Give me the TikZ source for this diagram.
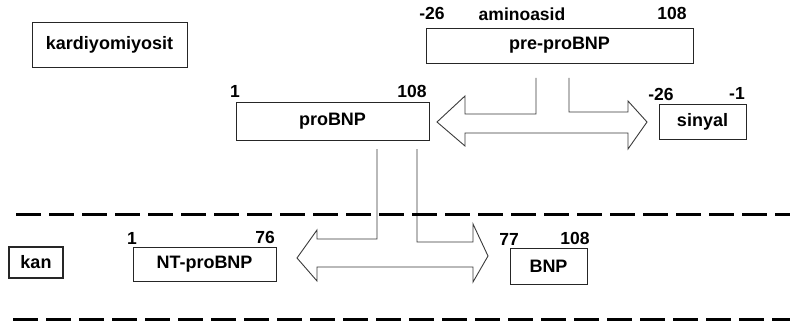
\documentclass[tikz,border=0pt]{standalone}
\usepackage{fontspec}
\setmainfont{Liberation Sans}
\usepackage{xcolor}
\definecolor{arrowgray}{HTML}{3A3A3A}
\usepackage{tikz}
\usetikzlibrary{positioning}

\begin{document}
\begin{tikzpicture}[
        x=1pt, y=-1pt,
        box/.style={rectangle, draw=black!85, line width=0.8pt, inner sep=0pt, font=\fontsize{18}{20}\selectfont\bfseries},
        num/.style={inner sep=0pt, font=\fontsize{17.5}{20}\selectfont\bfseries},
        fat/.style={draw=arrowgray, line width=0.9pt, line join=miter},
        border/.style={line width=3pt, dash pattern=on 25pt off 8pt}
    ]
        \useasboundingbox (0,0) rectangle (790,329);

        \node[box, minimum width=155pt, minimum height=45pt] (cell) at (109.5,44.5) {kardiyomiyosit};
        \node[box, minimum width=267pt, minimum height=35pt] (prepro) at (559.5,45.5) {pre-proBNP};
        \node[box, minimum width=87pt, minimum height=35pt] (sig) at (702.5,121.5) {sinyal};
        \node[box, minimum width=193pt, minimum height=38pt] (pro) at (332.5,121) {proBNP};
        \node[box, line width=2pt, minimum width=54pt, minimum height=31pt] (blood) at (36,262.5) {kan};
        \node[box, minimum width=143pt, minimum height=34pt] (ntpro) at (204.5,264) {NT-proBNP};
        \node[box, minimum width=77pt, minimum height=36pt] (bnp) at (548.5,266) {BNP};

        \node[num] (pre-a) at (432,13) {-26};
        \node[num] (pre-lab) at (522,14) {aminoasid};
        \node[num] (pre-b) at (672,13) {108};
        \node[num] (sig-a) at (661,94) {-26};
        \node[num] (sig-b) at (737,93) {-1};
        \node[num] (pro-a) at (235,91) {1};
        \node[num] (pro-b) at (412,91) {108};
        \node[num] (nt-a) at (132,238) {1};
        \node[num] (nt-b) at (265,237) {76};
        \node[num] (bnp-a) at (509,239) {77};
        \node[num] (bnp-b) at (575,238) {108};

        \coordinate (cut1) at (536,78);
        \coordinate (cut2) at (569,78);
        \coordinate (cut3) at (377,149);
        \coordinate (cut4) at (417,149);
        \draw[fat] (cut1) -- (536,114) -- (465,114) -- (465,96) -- (437,122) -- (465,146) -- (465,133)
            -- (628,133) -- (628,149) -- (647,122) -- (628,101) -- (628,112) -- (569,112) -- (cut2);
        \draw[fat] (cut3) -- (377,239) -- (317,239) -- (317,230) -- (297,258) -- (317,281) -- (317,267)
            -- (473,267) -- (473,282) -- (488,256) -- (473,224) -- (473,242) -- (417,242) -- (cut4);

        \coordinate (top-l) at (16,214);
        \coordinate (top-r) at (790,214);
        \coordinate (bot-l) at (13,319);
        \coordinate (bot-r) at (790,319);
        \draw[border] (top-l) -- (top-r);
        \draw[border] (bot-l) -- (bot-r);
    \end{tikzpicture}
\end{document}
